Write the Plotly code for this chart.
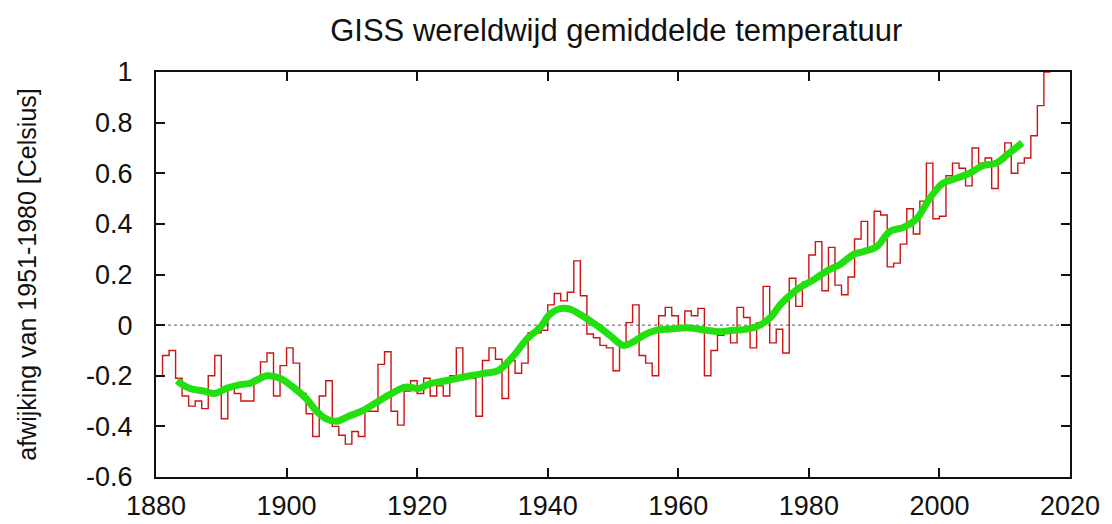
import plotly.graph_objects as go

years = list(range(1880, 2017))
anomaly = [
    -0.20, -0.12, -0.10, -0.21, -0.28, -0.32, -0.30, -0.33, -0.20, -0.12,  # 1880-1889
    -0.37, -0.24, -0.27, -0.30, -0.30, -0.21, -0.145, -0.11, -0.28, -0.16,  # 1890-1899
    -0.09, -0.15, -0.27, -0.35, -0.44, -0.28, -0.22, -0.40, -0.435, -0.47,  # 1900-1909
    -0.42, -0.44, -0.34, -0.34, -0.155, -0.105, -0.34, -0.395, -0.26, -0.22,  # 1910-1919
    -0.27, -0.21, -0.28, -0.24, -0.28, -0.20, -0.09, -0.20, -0.21, -0.36,  # 1920-1929
    -0.14, -0.09, -0.135, -0.29, -0.14, -0.19, -0.15, -0.03, -0.03, -0.02,  # 1930-1939
    0.08, 0.125, 0.096, 0.13, 0.254, 0.116, -0.035, -0.05, -0.08, -0.09,  # 1940-1949
    -0.18, -0.07, 0.01, 0.08, -0.12, -0.15, -0.20, 0.037, 0.07, 0.037,  # 1950-1959
    -0.02, 0.056, 0.037, 0.066, -0.20, -0.10, -0.04, -0.02, -0.07, 0.07,  # 1960-1969
    0.03, -0.09, 0.01, 0.153, -0.07, -0.016, -0.11, 0.185, 0.074, 0.17,  # 1970-1979
    0.277, 0.33, 0.136, 0.307, 0.158, 0.12, 0.19, 0.34, 0.41, 0.30,  # 1980-1989
    0.45, 0.435, 0.23, 0.245, 0.32, 0.46, 0.36, 0.49, 0.64, 0.42,  # 1990-1999
    0.43, 0.59, 0.64, 0.62, 0.55, 0.70, 0.64, 0.66, 0.54, 0.65,  # 2000-2009
    0.72, 0.60, 0.64, 0.66, 0.748, 0.867, 1.00,  # 2010-2016
]

smooth_years = [1883.2, 1885.2, 1887.3, 1889.0, 1890.8, 1892.9, 1894.4, 1897.0, 1899.0,
                1901.0, 1903.0, 1904.6, 1906.1, 1907.7, 1909.5, 1911.5, 1913.5,
                1916.1, 1918.2, 1920.3, 1922.1, 1924.4, 1926.2, 1928.2, 1930.3, 1932.4,
                1934.8, 1936.8, 1938.8, 1940.4, 1941.9, 1943.4, 1944.9, 1946.5, 1948.0,
                1949.5, 1951.6, 1953.1, 1954.7, 1956.7, 1958.8, 1961.4, 1964.3, 1966.4,
                1968.4, 1970.5, 1972.5, 1974.1, 1975.6, 1977.2, 1978.7, 1980.8, 1982.8,
                1984.8, 1986.9, 1988.3, 1990.4, 1992.4, 1994.5, 1996.5, 1998.5, 2000.5,
                2002.6, 2004.6, 2006.6, 2008.7, 2010.7, 2012.7]
smooth_values = [-0.22, -0.25, -0.26, -0.27, -0.25, -0.235, -0.23, -0.20, -0.21,
                 -0.245, -0.29, -0.34, -0.37, -0.38, -0.36, -0.34, -0.31,
                 -0.27, -0.245, -0.25, -0.23, -0.22, -0.21, -0.20, -0.19, -0.18,
                 -0.12, -0.055, -0.01, 0.045, 0.065, 0.063, 0.043, 0.017, -0.01,
                 -0.04, -0.08, -0.066, -0.04, -0.02, -0.015, -0.01, -0.02, -0.026,
                 -0.02, -0.016, 0.0, 0.03, 0.08, 0.12, 0.15, 0.18, 0.215,
                 0.24, 0.28, 0.29, 0.31, 0.37, 0.386, 0.42, 0.50, 0.56,
                 0.58, 0.60, 0.63, 0.64, 0.68, 0.72]

x_ticks = [1880, 1900, 1920, 1940, 1960, 1980, 2000, 2020]
y_ticks = [-0.6, -0.4, -0.2, 0, 0.2, 0.4, 0.6, 0.8, 1]
y_tick_text = ["-0.6", "-0.4", "-0.2", "0", "0.2", "0.4", "0.6", "0.8", "1"]

step_x = years + [years[-1] + 1]
step_y = anomaly + [anomaly[-1]]

fig = go.Figure()
fig.add_trace(go.Scatter(
    x=[1880, 2020], y=[0, 0], mode="lines",
    line=dict(color="#555555", width=1, dash="3px,3px"), hoverinfo="skip",
))
fig.add_trace(go.Scatter(
    x=step_x, y=step_y, mode="lines", line_shape="hv",
    line=dict(color="#cc1414", width=1.4),
))
fig.add_trace(go.Scatter(
    x=smooth_years, y=smooth_values, mode="lines", line_shape="spline",
    line=dict(color="#22e010", width=7),
))

tick_font = dict(family="Liberation Sans, Arial, sans-serif", size=27, color="#111111")
fig.update_layout(
    width=1112, height=524,
    margin=dict(l=148, r=50, t=64, b=55),
    paper_bgcolor="white", plot_bgcolor="white",
    showlegend=False,
    font=tick_font,
    title=dict(text="GISS wereldwijd gemiddelde temperatuur", x=0.547, xanchor="center",
               y=0.958, yanchor="middle",
               font=dict(family="Liberation Sans, Arial, sans-serif", size=31, color="#111111")),
)
fig.update_xaxes(
    range=[1880, 2020], tickvals=x_ticks, ticks="inside", ticklen=9, tickwidth=2,
    tickcolor="#111111", showline=True, linecolor="#111111", linewidth=2, mirror="ticks",
    showgrid=False, zeroline=False, tickfont=tick_font, ticklabelstandoff=4,
    automargin=False,
)
fig.update_yaxes(
    range=[-0.6, 1], tickvals=y_ticks, ticktext=y_tick_text, ticks="inside", ticklen=9,
    tickwidth=2, tickcolor="#111111", showline=True, linecolor="#111111", linewidth=2,
    mirror="ticks", showgrid=False, zeroline=False, tickfont=tick_font, ticklabelstandoff=16,
    automargin=False,
    title=dict(text="afwijking van 1951-1980 [Celsius]",
               font=dict(family="Liberation Sans, Arial, sans-serif", size=25, color="#111111"),
               standoff=42),
)
fig.write_html("out.html")
